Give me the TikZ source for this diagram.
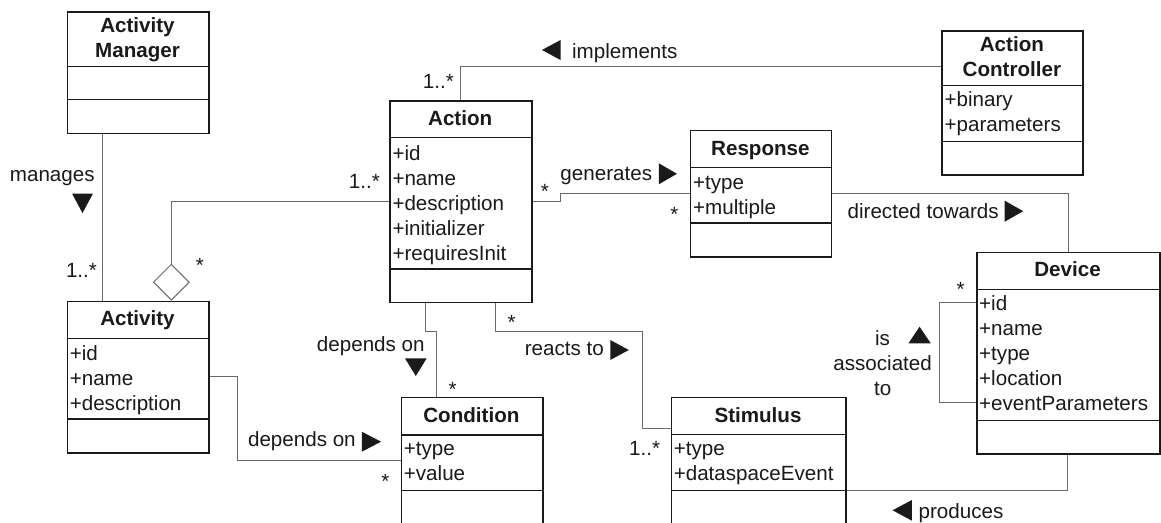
\documentclass[tikz,border=0pt]{standalone}
\usepackage{fontspec}
\setmainfont{Liberation Sans}
\usetikzlibrary{calc,shapes.geometric}
\definecolor{ink}{HTML}{1A1A1A}
\definecolor{wirecol}{HTML}{6A6A6A}
\tikzset{
  classbox/.style={draw=ink, line width=1.5pt, rectangle, inner sep=0pt, anchor=north west},
  divider/.style={draw=ink, line width=1.5pt},
  title/.style={font=\fontsize{20.6}{25}\selectfont\bfseries, text=ink, anchor=base, inner sep=0pt},
  attr/.style={font=\fontsize{20.6}{25}\selectfont, text=ink, anchor=base west, inner sep=0pt},
  lbl/.style={font=\fontsize{20.6}{25}\selectfont, text=ink, anchor=base, inner sep=0pt},
  wire/.style={draw=wirecol, line width=1pt},
  dirmark/.style={fill=ink},
}
% class frame: name, left, top, right, bottom, divider rows
\newcommand\classframe[6]{%
  \node[classbox, minimum width=#4-#2, minimum height=#5-#3] (#1) at (#2,#3) {};
  \foreach \d in {#6} \draw[divider] (#2,\d) -- (#4,\d);
}
% attribute rows: name prefix, x, first baseline, entries
\newcommand\attrlines[4]{%
  \foreach \t [count=\k] in {#4}{\node[attr] (#1-\k) at (#2,{#3+25*(\k-1)}) {\t};}
}
\begin{document}
\begin{tikzpicture}[x=1pt,y=-1pt]
\useasboundingbox (0,0) rectangle (1161,522);
\clip (0,0) rectangle (1161,522);
\fill[white] (0,0) rectangle (1161,522);

% ---- classes ----
\classframe{am}{66.6}{11}{208.3}{132.7}{66.3,99.3}
\node[title] (am-t1) at (137.5,32.3) {Activity};
\node[title] (am-t2) at (137.5,57.3) {Manager};

\classframe{action}{389.3}{100}{531}{301.7}{137.5,269}
\node[title] (action-t) at (460.2,125) {Action};
\attrlines{action-a}{392.3}{160}{+id,+name,+description,+initializer,+requiresInit}

\classframe{actctrl}{941.4}{30}{1082.4}{174}{85.7,141.3}
\node[title] (actctrl-t1) at (1011.9,51.7) {Action};
\node[title] (actctrl-t2) at (1011.9,76.7) {Controller};
\attrlines{actctrl-a}{944.4}{106.7}{+binary,+parameters}

\classframe{response}{689.9}{129.7}{830.8}{256.3}{167.7,223}
\node[title] (response-t) at (760.4,155) {Response};
\attrlines{response-a}{692.9}{189}{+type,+multiple}

\classframe{device}{976}{251.7}{1159}{453.3}{289.3,420.7}
\node[title] (device-t) at (1067.5,276) {Device};
\attrlines{device-a}{979}{310}{+id,+name,+type,+location,+eventParameters}

\classframe{activity}{66.6}{300.7}{208.3}{452.3}{338.3,419}
\node[title] (activity-t) at (137.5,325.7) {Activity};
\attrlines{activity-a}{69.6}{360}{+id,+name,+description}

\classframe{condition}{400.7}{396.7}{542}{545}{435,490.7}
\node[title] (condition-t) at (471.4,422) {Condition};
\attrlines{condition-a}{403.7}{455.5}{+type,+value}

\classframe{stimulus}{670.6}{396.7}{845.3}{545}{434.3,490.7}
\node[title] (stimulus-t) at (758,422) {Stimulus};
\attrlines{stimulus-a}{673.6}{455.5}{+type,+dataspaceEvent}

% ---- associations ----
% manages
\draw[wire] ($(am.south west)+(35.9,0)$) -- ($(activity.north west)+(35.9,0)$);
\node[lbl] (manages) at (52.3,181.5) {manages};
\fill[dirmark] (72,193.5) -- (93,193.5) -- (82.5,213) -- cycle;
\node[lbl] (manages-m) at (81.5,277) {1..*};

% aggregation Activity -- Action
\node[diamond, draw=wirecol, line width=1pt, fill=white, minimum width=36pt,
      minimum height=36pt, inner sep=0pt, anchor=south] (agg)
      at ($(activity.north west)+(104.7,0)$) {};
\draw[wire] (agg.north) |- ($(action.north west)+(0,101.3)$);
\node[lbl] (agg-m1) at (200,272.8) {*};
\node[lbl] (agg-m2) at (364.4,188) {1..*};

% implements
\draw[wire] ($(action.north west)+(70.7,0)$) |- ($(actctrl.north west)+(0,36.3)$);
\fill[dirmark] (542,50) -- (560.5,40) -- (560.5,60) -- cycle;
\node[lbl] (implements) at (624.8,58.5) {implements};
\node[lbl] (impl-m) at (438.4,88.3) {1..*};

% generates
\draw[wire] ($(action.north east)+(0,101.3)$) -- ++(27.6,0) |- ($(response.north west)+(0,63.3)$);
\node[lbl] (generates) at (606.3,180) {generates};
\fill[dirmark] (658.8,163.3) -- (658.8,184.3) -- (676.9,173.8) -- cycle;
\node[lbl] (gen-m1) at (545,198.8) {*};
\node[lbl] (gen-m2) at (674.3,221) {*};

% directed towards
\draw[wire] ($(response.north east)+(0,63.3)$) -| ($(device.north west)+(92,0)$);
\node[lbl] (directed) at (923.2,218) {directed towards};
\fill[dirmark] (1004.7,200.7) -- (1004.7,221.7) -- (1023.2,211.2) -- cycle;

% is associated to (Device to itself)
\draw[wire] ($(device.north west)+(0,51)$) -- ++(-36.4,0) |- ($(device.north west)+(0,151)$);
\node[lbl] (assoc-1) at (882.6,345) {is};
\node[lbl] (assoc-2) at (882.6,370) {associated};
\node[lbl] (assoc-3) at (882.6,395) {to};
\fill[dirmark] (908.5,343.3) -- (930.7,343.3) -- (919.6,326.7) -- cycle;
\node[lbl] (assoc-m) at (960.7,296) {*};

% Action depends on Condition
\draw[wire] ($(action.south west)+(36.4,0)$) -- ++(0,28.3) -| ($(condition.north west)+(35.5,0)$);
\node[lbl] (dep1) at (370.8,351.7) {depends on};
\fill[dirmark] (405,358.3) -- (426.7,358.3) -- (415.8,376) -- cycle;
\node[lbl] (dep1-m) at (452.7,396) {*};

% Activity depends on Condition
\draw[wire] ($(activity.north east)+(0,76)$) -- ++(27.4,0) |- ($(condition.north west)+(0,63.3)$);
\node[lbl] (dep2) at (301.9,446.7) {depends on};
\fill[dirmark] (361.8,431.7) -- (361.8,451.7) -- (381.1,441.7) -- cycle;
\node[lbl] (dep2-m) at (385.5,488) {*};

% reacts to
\draw[wire] ($(action.south west)+(106.4,0)$) -- ++(0,28) -| ($(stimulus.north west)+(-28.4,31.6)$) -- ($(stimulus.north west)+(0,31.6)$);
\node[lbl] (reacts) at (564.3,355) {reacts to};
\fill[dirmark] (610.3,340) -- (610.3,360) -- (628.8,350) -- cycle;
\node[lbl] (reacts-m1) at (511.7,329.5) {*};
\node[lbl] (reacts-m2) at (644.7,455) {1..*};

% produces
\draw[wire] ($(device.south west)+(91.6,0)$) |- ($(stimulus.north east)+(0,94)$);
\fill[dirmark] (892.6,510.3) -- (911.9,500) -- (911.9,520.7) -- cycle;
\node[lbl] (produces) at (961,518) {produces};
\end{tikzpicture}
\end{document}
